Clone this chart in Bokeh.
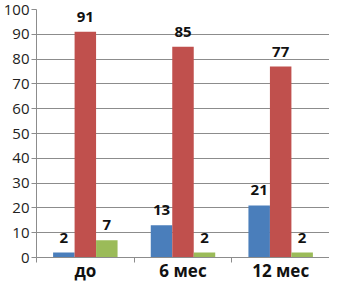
from bokeh.plotting import figure
from bokeh.models import Range1d, FixedTicker, ColumnDataSource, LabelSet
from bokeh.core.properties import value
from bokeh.embed import file_html
from bokeh.resources import INLINE

categories = ["до", "6 мес", "12 мес"]
blue_vals = [2, 13, 21]
red_vals = [91, 85, 77]
green_vals = [7, 2, 2]
colors = ["#4a7ebb", "#c0504d", "#9bbb59"]
y_ticks = [0, 10, 20, 30, 40, 50, 60, 70, 80, 90, 100]

bar_w = 0.22
offsets = [-bar_w, 0.0, bar_w]

p = figure(width=329, height=284, output_backend="svg", toolbar_location=None,
           x_range=Range1d(0, 3), y_range=Range1d(0, 100),
           min_border_left=30, min_border_right=0, min_border_top=9, min_border_bottom=0)
p.outline_line_color = None
p.background_fill_color = "white"
p.border_fill_color = "white"

for vals, off, col in zip([blue_vals, red_vals, green_vals], offsets, colors):
    xs = [i + 0.5 + off for i in range(len(categories))]
    src = ColumnDataSource(dict(x=xs, top=vals, lab=[str(v) for v in vals]))
    p.vbar(x="x", top="top", width=bar_w, bottom=0, source=src,
           fill_color=col, line_color=None)
    labels = LabelSet(x="x", y="top", text="lab", source=src,
                      text_align="center", text_baseline="middle", y_offset=15,
                      text_font=value("Open Sans"), text_font_style="bold",
                      text_font_size="15px", text_color="#111111")
    p.add_layout(labels)

# x axis: labels at category centres, tick marks at category boundaries
p.xaxis.ticker = FixedTicker(ticks=[i + 0.5 for i in range(len(categories))],
                             minor_ticks=list(range(len(categories) + 1)))
p.xaxis.major_label_overrides = {i + 0.5: c for i, c in enumerate(categories)}
p.xaxis.major_tick_line_color = None
p.xaxis.major_tick_out = 5
p.xaxis.major_tick_in = 0
p.xaxis.minor_tick_out = 5
p.xaxis.minor_tick_in = 0
p.xaxis.minor_tick_line_color = "#8c8c8c"
p.xaxis.axis_line_color = "#8c8c8c"
p.xaxis.major_label_standoff = -4
p.xaxis.major_label_text_font = "Open Sans"
p.xaxis.major_label_text_font_style = "bold"
p.xaxis.major_label_text_font_size = "17px"
p.xaxis.major_label_text_color = "#111111"
p.xgrid.grid_line_color = None

# y axis
p.yaxis.ticker = FixedTicker(ticks=y_ticks)
p.yaxis.minor_tick_line_color = None
p.yaxis.major_tick_out = 5
p.yaxis.major_tick_in = 0
p.yaxis.major_tick_line_color = "#8c8c8c"
p.yaxis.axis_line_color = "#8c8c8c"
p.yaxis.major_label_standoff = 2
p.yaxis.major_label_text_font = "Open Sans"
p.yaxis.major_label_text_font_size = "15px"
p.yaxis.major_label_text_color = "#222222"
p.ygrid.grid_line_color = "#8c8c8c"
p.ygrid.grid_line_width = 1

open("out.html", "w").write(file_html(p, INLINE))
